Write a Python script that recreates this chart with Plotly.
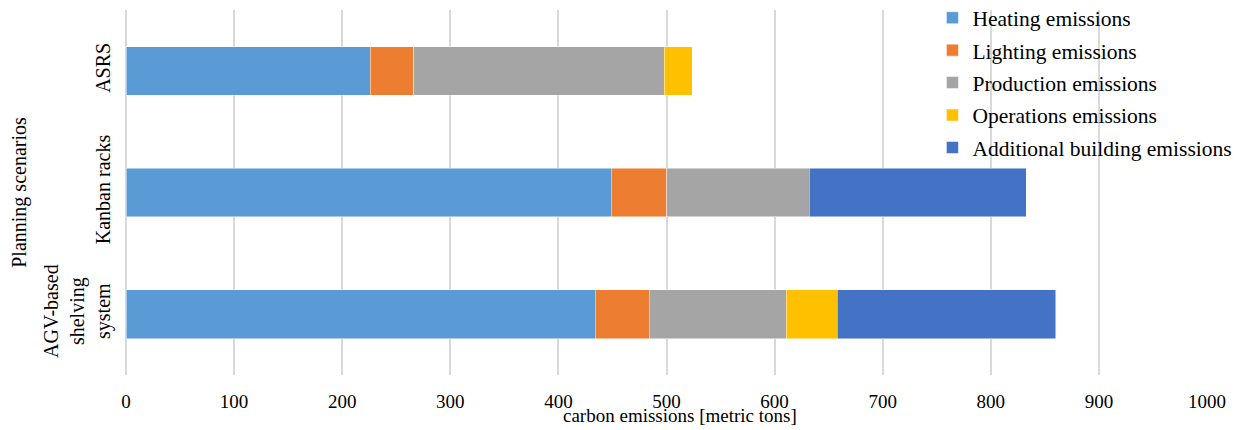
import plotly.graph_objects as go

categories = ["AGV-based<br>shelving<br>system", "Kanban racks", "ASRS"]
heating = [434, 449, 226]
lighting = [50, 51, 40]
production = [127, 132, 232]
operations = [47, 0, 26]
additional = [202, 201, 0]

series = [
    ("Heating emissions", heating, "#5B9BD5"),
    ("Lighting emissions", lighting, "#ED7D31"),
    ("Production emissions", production, "#A5A5A5"),
    ("Operations emissions", operations, "#FFC000"),
    ("Additional building emissions", additional, "#4472C4"),
]

x_ticks = list(range(0, 1001, 100))

FONT = "Liberation Serif, Times New Roman, serif"

fig = go.Figure()
for i, (name, vals, col) in enumerate(series):
    fig.add_trace(go.Bar(
        y=categories, x=vals, name=name, orientation="h", legendgroup=f"g{i}",
        marker=dict(color=col, line=dict(color="rgba(255,255,255,0.8)", width=0.6)),
    ))

fig.update_layout(
    barmode="stack",
    bargap=0.6,
    width=1236, height=430,
    margin=dict(l=126, r=29, t=10, b=55, autoexpand=False),
    paper_bgcolor="white", plot_bgcolor="white",
    font=dict(family=FONT, size=17, color="#000000"),
    legend=dict(
        x=0.746, xanchor="left", y=1.035, yanchor="top",
        traceorder="grouped", bgcolor="rgba(0,0,0,0)",
        font=dict(family=FONT, size=21.5, color="#000000"),
        tracegroupgap=1.5,
        itemwidth=30,
    ),
    showlegend=True,
)
fig.update_xaxes(
    range=[0, 1000], tickvals=x_ticks, ticktext=[str(v) for v in x_ticks],
    showgrid=True, gridcolor="#D9D9D9", gridwidth=2,
    zeroline=True, zerolinecolor="#D9D9D9", zerolinewidth=2,
    showline=False, automargin=False,
    ticks="outside", ticklen=9, tickcolor="rgba(0,0,0,0)",
    tickfont=dict(family=FONT, size=19),
)
fig.update_yaxes(
    categoryorder="array", categoryarray=categories,
    tickangle=-90, showgrid=False, showline=False, zeroline=False,
    automargin=False,
    ticks="outside", ticklen=7, tickcolor="rgba(0,0,0,0)",
    tickfont=dict(family=FONT, size=20),
    title=dict(text="Planning scenarios", font=dict(family=FONT, size=20), standoff=8),
)
fig.add_annotation(
    text="carbon emissions [metric tons]", xref="paper", yref="paper",
    x=0.5125, y=-0.112, xanchor="center", yanchor="middle", showarrow=False,
    font=dict(family=FONT, size=19, color="#000000"),
)

fig.write_html(
    "out.html",
    config={"displayModeBar": False},
    post_script="document.body.style.margin='0';document.body.style.overflow='hidden';",
)
